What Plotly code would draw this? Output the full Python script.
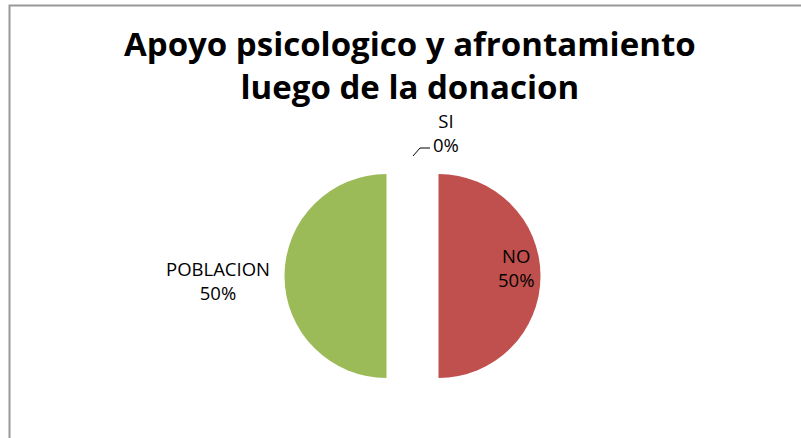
import plotly.graph_objects as go

# ---- data ----
categories = ["SI", "NO", "POBLACION"]
values = [0, 50, 50]
colors = ["#4F81BD", "#C0504D", "#9BBB59"]
title_text = "Apoyo psicologico y afrontamiento<br>luego de la donacion"

W, H = 801, 438
total = sum(values)
pcts = [round(100 * v / total) for v in values]

def px(x):
    return x / W

def py(y):
    return 1 - y / H

# pie geometry (pixels)
cx, cy = 412.5, 276.0
r = 102.0
pull = 26.0 / r
half = r * (1 + pull)

fig = go.Figure()
fig.add_trace(go.Pie(
    labels=categories,
    values=values,
    marker=dict(colors=colors, line=dict(width=0)),
    sort=False,
    direction="clockwise",
    rotation=0,
    pull=[pull, pull, pull],
    textinfo="none",
    hoverinfo="label+percent",
    showlegend=False,
    domain=dict(x=[px(cx - half - 40), px(cx + half + 40)],
                y=[py(cy + half), py(cy - half)]),
))

FONT = "Open Sans, Calibri, sans-serif"
label_font = dict(family=FONT, size=18.5, color="#000000")
title_font = dict(family=FONT, size=33, color="#000000", weight="bold")

def lab(i):
    return f"{categories[i]}<br>{pcts[i]}%"

annotations = [
    dict(text=title_text, x=px(410), y=py(65), xref="paper", yref="paper",
         showarrow=False, xanchor="center", yanchor="middle", font=title_font),
    dict(text=lab(0), x=px(446), y=py(133), xref="paper", yref="paper",
         showarrow=False, font=label_font, xanchor="center", yanchor="middle"),
    dict(text=lab(1), x=px(516), y=py(267), xref="paper", yref="paper",
         showarrow=False, font=label_font, xanchor="center", yanchor="middle"),
    dict(text=lab(2), x=px(218), y=py(280), xref="paper", yref="paper",
         showarrow=False, font=label_font, xanchor="center", yanchor="middle"),
]

shapes = [
    # chart area border (left and top visible)
    dict(type="rect", xref="paper", yref="paper",
         x0=px(9.5), x1=px(W + 20), y0=py(H + 20), y1=py(5.5),
         line=dict(color="#999999", width=2), fillcolor="rgba(0,0,0,0)", layer="below"),
    # leader line for SI
    dict(type="path", xref="paper", yref="paper",
         path=f"M {px(413)},{py(156)} L {px(420)},{py(148)} L {px(430)},{py(148)}",
         line=dict(color="#000000", width=1)),
]

fig.update_layout(
    width=W, height=H,
    margin=dict(l=0, r=0, t=0, b=0),
    paper_bgcolor="#FFFFFF",
    plot_bgcolor="#FFFFFF",
    annotations=annotations,
    shapes=shapes,
)

fig.write_html("out.html")
